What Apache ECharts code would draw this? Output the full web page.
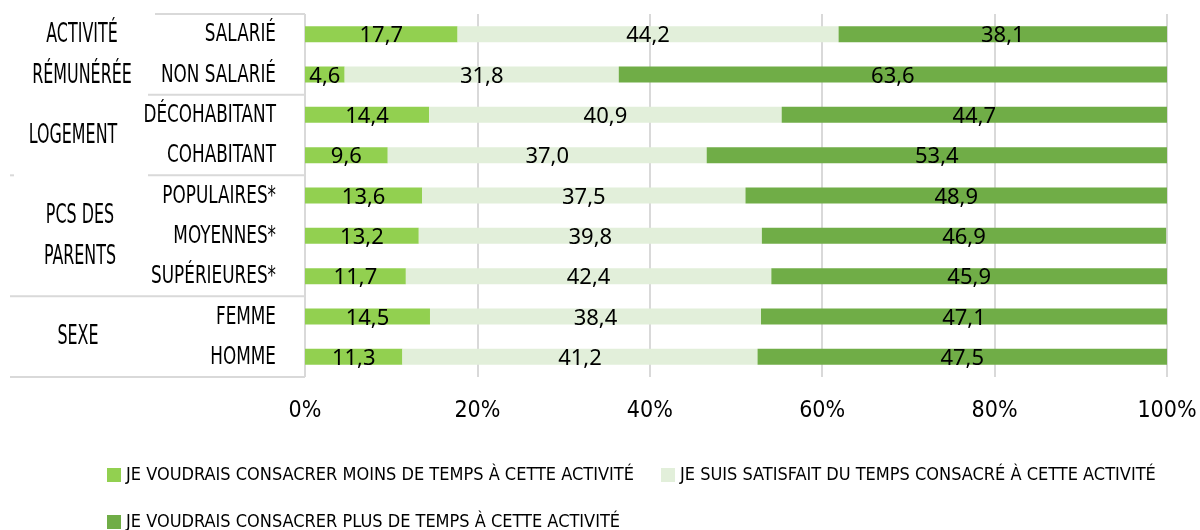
<!DOCTYPE html>
<html>
<head>
  <meta charset="UTF-8">
  <title>Temps consacré à l'activité</title>
  <script src="https://cdn.jsdelivr.net/npm/echarts@6/dist/echarts.min.js"></script>
</head>
<style type="text/css">
  html, body {padding: 0; margin: 0; background: #fff;}
  #chart {width: 1200px; height: 530px;}
</style>
<body>
  <div id="chart"></div>
  <script type="text/javascript">
    var categories = ['SALARIÉ', 'NON SALARIÉ', 'DÉCOHABITANT', 'COHABITANT', 'POPULAIRES*', 'MOYENNES*', 'SUPÉRIEURES*', 'FEMME', 'HOMME'];
    var seriesNames = [
      'JE VOUDRAIS CONSACRER MOINS DE TEMPS À CETTE ACTIVITÉ',
      'JE SUIS SATISFAIT DU TEMPS CONSACRÉ À CETTE ACTIVITÉ',
      'JE VOUDRAIS CONSACRER PLUS DE TEMPS À CETTE ACTIVITÉ'
    ];
    var moins = [17.7, 4.6, 14.4, 9.6, 13.6, 13.2, 11.7, 14.5, 11.3];
    var satisfait = [44.2, 31.8, 40.9, 37.0, 37.5, 39.8, 42.4, 38.4, 41.2];
    var plus = [38.1, 63.6, 44.7, 53.4, 48.9, 46.9, 45.9, 47.1, 47.5];
    // group name, first and last category index, x of the label centre
    var groups = [['ACTIVITÉ\nRÉMUNÉRÉE', 0, 1, 82], ['LOGEMENT', 2, 3, 73], ['PCS DES\nPARENTS', 4, 6, 80], ['SEXE', 7, 8, 78]];

    var condensed = '"DejaVu Sans Condensed", "DejaVu Sans", sans-serif';
    var colors = ['#92d050', '#e2efda', '#70ad47'];
    var lineColor = '#d9d9d9';

    function fmt(p) {
      return p.value.toFixed(1).replace('.', ',');
    }

    function makeSeries(name, data) {
      return {
        name: name,
        type: 'bar',
        stack: 'total',
        barWidth: 16,
        data: data,
        label: {
          show: true,
          position: 'inside',
          formatter: fmt,
          color: '#000',
          fontFamily: '"Noto Sans", sans-serif',
          fontSize: 22,
          offset: [0, 2]
        }
      };
    }

    function hline(x1, x2, y) {
      return {type: 'line', shape: {x1: x1, y1: y, x2: x2, y2: y}, style: {stroke: lineColor, lineWidth: 2}};
    }

    function narrowText(txt, x, y, align, size, squeeze) {
      return {
        type: 'text', x: x, y: y, scaleX: squeeze,
        style: {text: txt, font: size + 'px ' + condensed, fill: '#000', align: align, verticalAlign: 'middle', lineHeight: 41}
      };
    }

    var chart = echarts.init(document.getElementById('chart'));
    var option = {
      animation: false,
      color: colors,
      grid: {left: 305, right: 33, top: 14, bottom: 153},
      legend: [
        {data: [seriesNames[0]], left: 102, top: 461},
        {data: [seriesNames[1]], left: 656, top: 461},
        {data: [seriesNames[2]], left: 102, top: 508}
      ].map(function (l) {
        l.itemWidth = 14;
        l.itemHeight = 14;
        l.icon = 'rect';
        l.itemGap = 4;
        l.textStyle = {fontFamily: condensed, fontSize: 18, color: '#000'};
        return l;
      }),
      xAxis: {
        type: 'value',
        min: 0,
        max: 100,
        interval: 20,
        axisLine: {show: false},
        axisTick: {show: false},
        splitLine: {lineStyle: {color: lineColor, width: 2}},
        axisLabel: {formatter: '{value}%', margin: 23, fontFamily: condensed, fontSize: 23, color: '#000'}
      },
      yAxis: {
        type: 'category',
        inverse: true,
        data: categories,
        axisLine: {show: false},
        axisTick: {show: false},
        axisLabel: {show: false}
      },
      series: [
        makeSeries(seriesNames[0], moins),
        makeSeries(seriesNames[1], satisfait),
        makeSeries(seriesNames[2], plus)
      ]
    };
    chart.setOption(option);

    // row labels and the little table on the left, placed from the category axis
    function rowY(i) {
      return chart.convertToPixel({yAxisIndex: 0}, categories[i]);
    }
    var half = (rowY(1) - rowY(0)) / 2;
    var graphics = [];
    categories.forEach(function (c, i) {
      graphics.push(narrowText(c, 276, rowY(i) + 1, 'right', 24, 0.78));
    });
    groups.forEach(function (g) {
      graphics.push(narrowText(g[0], g[3], (rowY(g[1]) + rowY(g[2])) / 2 + 1, 'center', 26, 0.68));
    });
    graphics.push(
      hline(155, 305, rowY(0) - half),
      hline(148, 305, rowY(1) + half),
      hline(148, 305, rowY(3) + half),
      hline(10, 14, rowY(3) + half),
      hline(10, 305, rowY(6) + half),
      hline(10, 305, rowY(8) + half)
    );
    chart.setOption({graphic: graphics});
  </script>
</body>
</html>
